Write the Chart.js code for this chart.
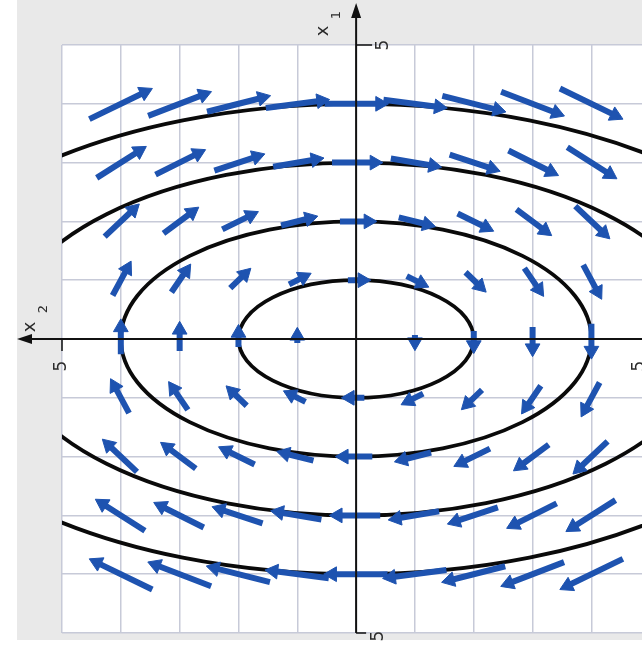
<!DOCTYPE html>
<html>
<head>
<meta charset="utf-8">
<script src="https://cdn.jsdelivr.net/npm/chart.js@4.4.1/dist/chart.umd.min.js"></script>
<style>
  html, body { margin: 0; padding: 0; background: #ffffff; }
  canvas { display: block; }
</style>
</head>
<body>
<canvas id="champ" width="642" height="647"></canvas>
<script>
// Grille des fleches (x2 horizontal, x1 vertical)
const colsX = [-4, -3, -2, -1, 0, 1, 2, 3, 4];
const rowsY = [4, 3, 2, 1, 0, -1, -2, -3, -4];
// composante horizontale des fleches, lue ligne par ligne
const rowU = [1.07, 0.82, 0.55, 0.28, 0, -0.28, -0.55, -0.82, -1.07];
// composante verticale des fleches, lue colonne par colonne
const colV = [0.52, 0.41, 0.27, 0.14, 0, -0.14, -0.27, -0.41, -0.52];

// Ellipses (demi-axes horizontal / vertical)
const ellipseA = [2, 4, 6, 8];
const ellipseB = [1, 2, 3, 4];

// Textes des axes
const tickText = "5";
const axisNames = ["x", "1", "x", "2"];

const blue = "#1e53b0";

// Construction des segments de fleches
let arrowData = [];
for (let r = 0; r < rowsY.length; r++) {
    for (let c = 0; c < colsX.length; c++) {
        const u = rowU[r];
        const v = colV[c];
        if (u === 0 && v === 0) continue;
        const X = colsX[c], Y = rowsY[r];
        arrowData.push({ x: X - u / 2, y: Y - v / 2 });
        arrowData.push({ x: X + 0.38 * u, y: Y + 0.38 * v, head: true, rot: Math.atan2(u, v) * 180 / Math.PI });
        arrowData.push({ x: X, y: null }); // coupure
    }
}

// Fond gris + zone blanche
const fondPlugin = {
    id: "fond",
    beforeDraw(chart) {
        const ctx = chart.ctx, a = chart.chartArea;
        ctx.save();
        ctx.fillStyle = "#ffffff";
        ctx.fillRect(0, 0, chart.width, chart.height);
        ctx.fillStyle = "#e9e9e9";
        ctx.fillRect(17, 0, chart.width - 17, 640);
        ctx.fillStyle = "#ffffff";
        ctx.fillRect(a.left, a.top, a.right - a.left, a.bottom - a.top);
        ctx.restore();
    }
};

// Ellipses dessinees avec les echelles
const ellipsePlugin = {
    id: "ellipses",
    beforeDatasetsDraw(chart) {
        const ctx = chart.ctx, a = chart.chartArea;
        const sx = chart.scales.x, sy = chart.scales.y;
        const cx = sx.getPixelForValue(0), cy = sy.getPixelForValue(0);
        ctx.save();
        ctx.beginPath();
        ctx.rect(a.left, a.top, a.right - a.left, a.bottom - a.top);
        ctx.clip();
        ctx.strokeStyle = "#0a0a0a";
        ctx.lineWidth = 3.8;
        for (let i = 0; i < ellipseA.length; i++) {
            const rx = sx.getPixelForValue(ellipseA[i]) - cx;
            const ry = cy - sy.getPixelForValue(ellipseB[i]);
            ctx.beginPath();
            ctx.ellipse(cx, cy, rx, ry, 0, 0, Math.PI * 2);
            ctx.stroke();
        }
        ctx.restore();
    }
};

function texteTourne(ctx, txt, x, y, size) {
    ctx.save();
    ctx.translate(x, y);
    ctx.rotate(-Math.PI / 2);
    ctx.font = size + "px 'DejaVu Sans'";
    ctx.textAlign = "center";
    ctx.textBaseline = "middle";
    ctx.fillText(txt, 0, 0);
    ctx.restore();
}

// Axes, fleches des axes, graduations et noms
const axesPlugin = {
    id: "axes",
    afterDraw(chart) {
        const ctx = chart.ctx;
        const sx = chart.scales.x, sy = chart.scales.y;
        const cx = sx.getPixelForValue(0), cy = sy.getPixelForValue(0);
        const top = sy.getPixelForValue(5), bot = sy.getPixelForValue(-5);
        const left = sx.getPixelForValue(-5);
        ctx.save();
        ctx.strokeStyle = "#111";
        ctx.fillStyle = "#111";
        ctx.lineWidth = 2;
        // axe vertical
        ctx.beginPath();
        ctx.moveTo(cx, bot);
        ctx.lineTo(cx, 8);
        ctx.stroke();
        ctx.beginPath();
        ctx.moveTo(cx, 3);
        ctx.lineTo(cx - 5, 18);
        ctx.lineTo(cx + 5, 18);
        ctx.closePath();
        ctx.fill();
        // axe horizontal
        ctx.beginPath();
        ctx.moveTo(chart.width, cy);
        ctx.lineTo(22, cy);
        ctx.stroke();
        ctx.beginPath();
        ctx.moveTo(17, cy);
        ctx.lineTo(32, cy - 5);
        ctx.lineTo(32, cy + 5);
        ctx.closePath();
        ctx.fill();
        // graduations
        ctx.lineWidth = 1.5;
        ctx.beginPath();
        ctx.moveTo(cx, top); ctx.lineTo(cx + 16, top);
        ctx.moveTo(cx, bot); ctx.lineTo(cx + 10, bot);
        ctx.moveTo(left, cy); ctx.lineTo(left, cy + 12);
        ctx.stroke();
        ctx.fillStyle = "#2a2a2a";
        texteTourne(ctx, tickText, cx + 27, top, 17);
        texteTourne(ctx, tickText, cx + 22, bot + 3, 17);
        texteTourne(ctx, tickText, left, cy + 27, 17);
        texteTourne(ctx, tickText, sx.getPixelForValue(4.82), cy + 27, 17);
        // noms des axes
        texteTourne(ctx, axisNames[0], cx - 33, 31, 18);
        texteTourne(ctx, axisNames[1], cx - 19, 15, 13);
        texteTourne(ctx, axisNames[2], 30, cy - 12, 18);
        texteTourne(ctx, axisNames[3], 44, cy - 30, 13);
        ctx.restore();
    }
};

const champChart = new Chart(document.getElementById("champ").getContext("2d"), {
    type: "scatter",
    data: {
        datasets: [{
            label: "champ",
            data: arrowData,
            showLine: true,
            spanGaps: false,
            borderColor: blue,
            borderWidth: 6,
            tension: 0,
            pointStyle: "triangle",
            pointRadius: (c) => (c.raw && c.raw.head ? 8.5 : 0),
            pointHoverRadius: 0,
            pointRotation: (c) => (c.raw && c.raw.head ? c.raw.rot : 0),
            pointBackgroundColor: blue,
            pointBorderColor: blue,
            pointBorderWidth: 1
        }]
    },
    options: {
        responsive: false,
        animation: false,
        events: [],
        layout: { padding: { left: 62, top: 45, right: 0, bottom: 14 } },
        plugins: { legend: { display: false }, tooltip: { enabled: false } },
        scales: {
            x: {
                type: "linear",
                min: -5,
                max: 4.86,
                ticks: { display: false, stepSize: 1, includeBounds: false },
                grid: { color: "#c7cad8", lineWidth: 1.5, drawTicks: false },
                border: { display: false }
            },
            y: {
                type: "linear",
                min: -5,
                max: 5,
                ticks: { display: false, stepSize: 1 },
                grid: { color: "#c7cad8", lineWidth: 1.5, drawTicks: false },
                border: { display: false }
            }
        }
    },
    plugins: [fondPlugin, ellipsePlugin, axesPlugin]
});
</script>
</body>
</html>
